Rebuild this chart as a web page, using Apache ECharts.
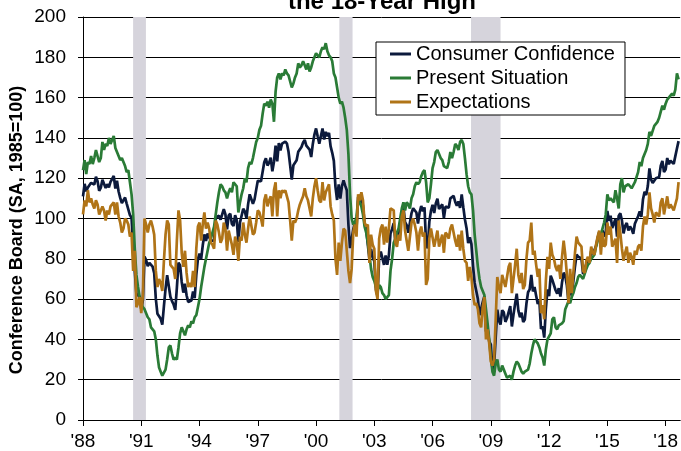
<!DOCTYPE html>
<html>
<head>
<meta charset="utf-8">
<script src="https://cdn.jsdelivr.net/npm/echarts@6/dist/echarts.min.js"></script>
<style>
  html, body { margin: 0; padding: 0; background: #fff; }
  #chart { width: 681px; height: 451px; }
</style>
</head>
<body>
<div id="chart"></div>
<script>
// monthly values, Jan 1988 .. Sep 2018
const startYear = 1988;

const confidence = [
  111.0, 117.2, 113.6, 115.4, 115.2, 117.7, 117.2, 116.9, 120.7, 118.5, 113.7, 115.3,
  119.2, 118.8, 115.1, 117.0, 115.5, 118.2, 119.6, 121.1, 114.9, 118.7, 113.4, 110.2,
  107.6, 107.8, 110.4, 107.4, 108.0, 101.7, 100.4, 85.2, 84.7, 62.6, 61.7, 61.2,
  55.1, 59.4, 81.1, 79.4, 76.4, 78.0, 77.7, 76.1, 72.9, 60.1, 52.7, 52.5,
  50.2, 47.3, 56.5, 65.1, 71.9, 72.6, 61.2, 59.0, 57.3, 54.6, 65.6, 78.1,
  76.7, 68.5, 63.2, 67.6, 61.9, 58.6, 59.2, 59.3, 63.8, 60.5, 71.9, 79.8,
  82.6, 79.9, 86.7, 92.1, 88.9, 92.5, 92.1, 88.9, 89.5, 89.1, 100.4, 101.3,
  101.4, 99.4, 100.2, 104.6, 102.0, 94.6, 101.4, 102.4, 97.3, 96.3, 101.6, 99.2,
  88.4, 98.0, 98.4, 104.8, 103.5, 100.1, 107.0, 112.0, 111.8, 107.3, 109.5, 114.2,
  118.7, 118.9, 118.5, 118.5, 127.9, 129.9, 126.3, 127.6, 130.2, 123.4, 128.1, 136.2,
  128.3, 137.4, 133.8, 137.2, 136.3, 138.2, 137.2, 133.1, 126.4, 119.3, 126.4, 126.7,
  128.9, 133.1, 134.0, 135.5, 137.7, 139.0, 136.2, 136.0, 134.2, 130.5, 137.0, 141.7,
  144.7, 140.8, 137.1, 137.7, 144.7, 139.2, 143.0, 140.8, 142.5, 135.8, 132.6, 128.6,
  115.7, 109.2, 116.9, 109.9, 116.1, 118.9, 116.3, 114.0, 97.0, 85.3, 84.9, 94.6,
  97.8, 95.0, 110.7, 108.5, 110.3, 106.3, 97.4, 94.5, 93.7, 79.6, 84.9, 80.7,
  78.8, 64.8, 61.4, 81.0, 83.6, 83.5, 77.0, 81.7, 77.0, 81.7, 92.5, 94.8,
  97.7, 88.5, 88.5, 93.0, 93.1, 102.8, 105.7, 98.2, 96.7, 92.9, 92.6, 102.7,
  105.1, 104.4, 103.0, 97.5, 103.1, 106.2, 103.6, 105.5, 87.5, 85.2, 98.3, 103.8,
  106.8, 102.7, 107.5, 109.8, 104.7, 105.4, 107.0, 100.2, 105.9, 105.1, 105.3, 110.0,
  110.2, 111.2, 108.2, 106.3, 108.5, 105.3, 111.9, 105.6, 99.5, 95.2, 87.8, 90.6,
  87.3, 76.4, 68.0, 64.0, 60.0, 52.0, 52.5, 58.5, 61.4, 44.0, 45.0, 39.0,
  37.4, 25.3, 26.9, 40.8, 54.8, 49.3, 47.4, 54.5, 53.4, 48.7, 50.6, 53.6,
  56.5, 46.4, 52.3, 57.7, 62.7, 54.3, 51.0, 53.2, 48.6, 49.9, 57.8, 63.4,
  64.8, 72.0, 63.8, 66.0, 61.7, 57.6, 59.2, 45.2, 46.4, 40.9, 55.2, 64.8,
  61.5, 71.6, 69.5, 68.7, 64.4, 62.7, 65.4, 61.3, 68.4, 73.1, 71.5, 66.7,
  58.4, 68.0, 61.9, 69.0, 76.2, 82.1, 81.0, 81.8, 80.2, 72.4, 72.0, 77.5,
  79.4, 78.3, 83.9, 82.3, 82.2, 86.4, 90.3, 93.4, 86.0, 94.1, 91.0, 93.1,
  103.8, 98.8, 101.4, 95.2, 94.6, 99.8, 91.0, 101.3, 102.6, 99.1, 92.6, 96.3,
  97.8, 94.0, 96.1, 94.7, 92.4, 97.4, 96.7, 101.1, 103.5, 100.8, 109.4, 113.3,
  111.6, 116.1, 124.9, 119.4, 117.6, 117.3, 120.0, 120.4, 120.6, 126.2, 128.6, 123.1,
  124.3, 130.0, 127.0, 128.7, 128.8, 127.1, 127.9, 134.7, 138.4
];

const presentSituation = [
  124, 129, 122, 128, 127, 131, 127, 130, 134, 131, 128, 130,
  138, 134, 137, 136, 140, 137, 139, 141, 135, 133, 131, 129,
  130, 128, 126, 123, 124, 118, 112, 102, 85, 72, 66, 61,
  58, 56, 55, 53, 51, 50, 46, 45, 44, 40, 32, 26,
  24, 22, 22, 25, 30, 36, 37, 33, 30, 31, 30, 36,
  43, 46, 44, 42, 45, 47, 46, 49, 48, 51, 52, 56,
  60, 66, 71, 76, 80, 84, 88, 90, 93, 96, 102, 108,
  113, 117, 116, 114, 113, 110, 113, 115, 113, 118, 117, 116,
  103, 108, 112, 115, 120, 118, 125, 128, 127, 130, 134, 138,
  140, 144, 146, 152, 157, 156, 158, 155, 159, 157, 148, 163,
  170, 172, 169, 172, 171, 174, 172, 171, 168, 165, 167, 170,
  172, 177, 175, 176, 178, 176, 174, 177, 173, 175, 178, 180,
  182, 181, 180, 183, 185, 184, 187, 183, 181, 180, 178, 172,
  170, 165, 160, 157, 158, 155, 150, 144, 132, 112, 100, 97,
  98, 101, 109, 108, 106, 102, 96, 93, 88, 82, 75, 71,
  69, 66, 64, 67, 66, 63, 62, 60, 61, 62, 74, 80,
  88, 90, 93, 95, 100, 105, 108, 104, 108, 107, 105, 110,
  112, 116, 118, 117, 118, 121, 123, 124, 118, 108, 110, 117,
  125, 128, 133, 134, 132, 130, 129, 126, 126, 125, 128, 133,
  130, 133, 137, 136, 134, 138, 139, 137, 130, 122, 116, 113,
  112, 104, 92, 84, 76, 70, 66, 64, 62, 55, 48, 40,
  31, 24, 22, 28, 30, 25, 24, 27, 25, 23, 21, 21,
  22, 20, 24, 27, 29, 28, 26, 24, 23, 24, 24, 25,
  28, 33, 37, 40, 39, 38, 36, 33, 31, 27, 35, 40,
  40, 43, 50, 51, 46, 45, 47, 47, 48, 49, 55, 57,
  59, 58, 61, 63, 66, 68, 71, 72, 72, 70, 70, 75,
  77, 78, 80, 81, 82, 86, 89, 93, 92, 95, 98, 102,
  112, 109, 110, 109, 108, 114, 110, 105, 117, 120, 113, 116,
  116, 117, 116, 115, 115, 118, 118, 123, 128, 126, 130, 132,
  134, 137, 143, 141, 141, 146, 146, 148, 150, 153, 156, 154,
  157, 159, 160, 161, 162, 161, 164, 172, 169
];

const expectations = [
  102, 109, 106, 114, 108, 110, 107, 105, 109, 107, 102, 104,
  106, 104, 99, 104, 102, 106, 107, 108, 102, 108, 101, 98,
  93, 95, 100, 99, 97, 91, 93, 74, 84, 56, 58, 61,
  53, 62, 100, 97, 93, 97, 99, 96, 92, 74, 66, 70,
  68, 64, 79, 92, 99, 97, 77, 76, 75, 70, 89, 104,
  99, 83, 76, 84, 73, 66, 68, 66, 74, 66, 85, 96,
  98, 89, 97, 103, 95, 98, 95, 88, 87, 85, 99, 97,
  93, 88, 90, 98, 95, 84, 94, 94, 87, 82, 91, 88,
  79, 91, 89, 98, 92, 88, 95, 101, 101, 92, 93, 98,
  104, 103, 100, 96, 109, 112, 106, 109, 111, 101, 114, 118,
  101, 114, 110, 114, 113, 114, 114, 108, 99, 89, 99, 98,
  100, 104, 107, 109, 111, 115, 111, 109, 109, 101, 110, 116,
  120, 114, 109, 108, 118, 109, 113, 113, 117, 106, 102, 99,
  80, 72, 88, 79, 88, 95, 94, 94, 74, 68, 75, 93,
  97, 91, 112, 109, 113, 109, 98, 96, 97, 78, 92, 87,
  85, 64, 60, 90, 95, 97, 87, 96, 88, 95, 105, 105,
  104, 88, 86, 92, 89, 101, 104, 94, 89, 84, 84, 98,
  100, 97, 93, 84, 93, 96, 91, 93, 67, 70, 90, 95,
  95, 86, 90, 94, 86, 89, 92, 83, 93, 92, 90, 95,
  97, 97, 89, 86, 92, 84, 94, 85, 79, 78, 69, 76,
  71, 62, 57, 58, 55, 48, 46, 56, 61, 40, 45, 38,
  29, 27, 30, 50, 71, 66, 63, 72, 72, 66, 71, 76,
  78, 63, 70, 77, 85, 72, 68, 73, 65, 67, 80, 88,
  89, 98, 82, 84, 77, 71, 75, 53, 57, 50, 69, 81,
  75, 88, 82, 80, 76, 74, 77, 70, 81, 89, 82, 72,
  58, 75, 63, 73, 83, 91, 88, 88, 86, 74, 73, 79,
  81, 78, 86, 83, 82, 87, 91, 94, 82, 93, 86, 87,
  98, 92, 96, 86, 86, 90, 78, 99, 93, 85, 79, 83,
  86, 78, 83, 81, 77, 84, 82, 86, 87, 84, 96, 101,
  97, 102, 113, 105, 102, 98, 103, 102, 101, 108, 110, 102,
  102, 111, 105, 107, 107, 104, 104, 110, 118
];

// recessions (start, end) in decimal years
const recessions = [[1990.58, 1991.24], [2001.2, 2001.88], [2007.98, 2009.5]];

const tickYears = [1988, 1991, 1994, 1997, 2000, 2003, 2006, 2009, 2012, 2015, 2018];
const tickLabels = ["'88", "'91", "'94", "'97", "'00", "'03", "'06", "'09", "'12", "'15", "'18"];

const font = 'Liberation Sans, Arial, sans-serif';

function toPoints(arr) {
  return arr.map((v, i) => [startYear + i / 12, v]);
}

let chart = echarts.init(document.getElementById('chart'));

let lineSeries = (name, data, color) => ({
  name: name,
  type: 'line',
  data: toPoints(data),
  symbol: 'none',
  z: 3,
  lineStyle: { color: color, width: 2.7 },
  itemStyle: { color: color },
});

let option = {
  animation: false,
  grid: { left: 83, right: 0, top: 17, bottom: 31 },
  graphic: [
    {
      type: 'text',
      x: 382, y: 2,
      style: {
        text: 'the 18-Year High',
        font: 'bold 24px ' + font,
        fill: '#000',
        textAlign: 'center',
        textVerticalAlign: 'middle',
      },
    },
    {
      type: 'text',
      x: 17, y: 230,
      rotation: Math.PI / 2,
      style: {
        text: 'Conference Board (SA, 1985=100)',
        font: 'bold 18px ' + font,
        fill: '#000',
        textAlign: 'center',
        textVerticalAlign: 'middle',
      },
    },
  ],
  legend: {
    orient: 'vertical',
    left: 376,
    top: 42,
    data: ['Consumer Confidence', 'Present Situation', 'Expectations'],
    icon: 'rect',
    itemWidth: 21,
    itemHeight: 3,
    itemGap: 4,
    padding: [2, 10, 3, 14],
    backgroundColor: '#fff',
    borderColor: '#000',
    borderWidth: 1,
    borderRadius: 0,
    textStyle: { fontFamily: font, fontSize: 20, color: '#000' },
  },
  xAxis: {
    type: 'value',
    min: 1988,
    max: 2018.75,
    interval: 3,
    axisLine: { lineStyle: { color: '#000', width: 1 } },
    axisTick: { show: true, length: 6, lineStyle: { color: '#000' } },
    splitLine: { show: false },
    axisLabel: {
      fontFamily: font,
      fontSize: 19,
      color: '#000',
      margin: 12,
      showMaxLabel: false,
      formatter: (v) => {
        let idx = tickYears.indexOf(Math.round(v * 100) / 100);
        return idx >= 0 ? tickLabels[idx] : '';
      },
    },
  },
  yAxis: {
    type: 'value',
    min: 0,
    max: 200,
    interval: 20,
    axisLine: { show: true, lineStyle: { color: '#000', width: 1 } },
    axisTick: { show: true, length: 5, lineStyle: { color: '#000' } },
    splitLine: { show: true, lineStyle: { color: '#000', width: 1 } },
    axisLabel: { fontFamily: font, fontSize: 19, color: '#000', margin: 17 },
  },
  series: [
    {
      name: 'recessions',
      type: 'line',
      data: [],
      z: 1,
      silent: true,
      markArea: {
        silent: true,
        itemStyle: { color: '#d6d4dc', opacity: 1 },
        data: recessions.map((r) => [{ xAxis: r[0] }, { xAxis: r[1] }]),
      },
    },
    lineSeries('Consumer Confidence', confidence, '#0c1a3c'),
    lineSeries('Present Situation', presentSituation, '#2a7b36'),
    lineSeries('Expectations', expectations, '#b07417'),
  ],
};

chart.setOption(option);
</script>
</body>
</html>
